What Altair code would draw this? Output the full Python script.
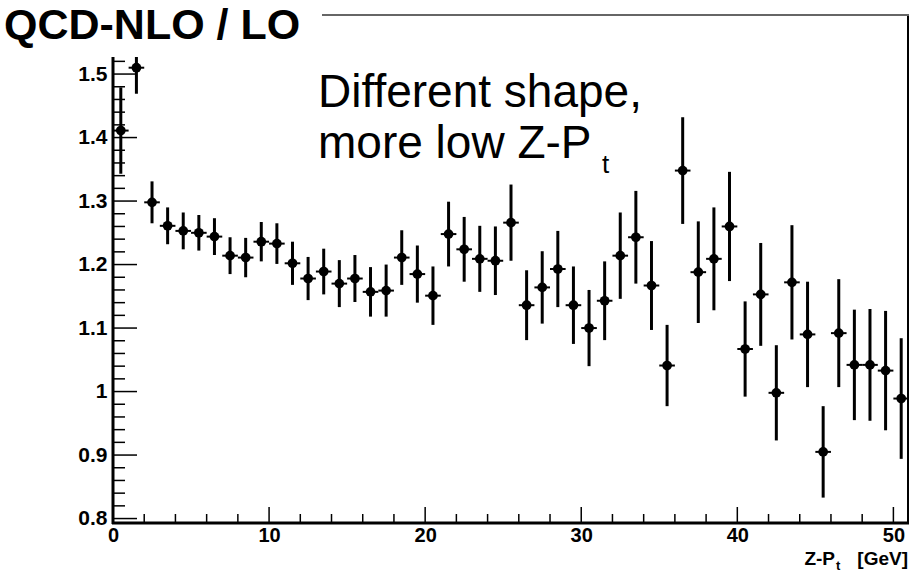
import altair as alt
import pandas as pd

# ---- data ----
bin_center = [0.5, 1.5, 2.5, 3.5, 4.5, 5.5, 6.5, 7.5, 8.5, 9.5,
              10.5, 11.5, 12.5, 13.5, 14.5, 15.5, 16.5, 17.5, 18.5, 19.5,
              20.5, 21.5, 22.5, 23.5, 24.5, 25.5, 26.5, 27.5, 28.5, 29.5,
              30.5, 31.5, 32.5, 33.5, 34.5, 35.5, 36.5, 37.5, 38.5, 39.5,
              40.5, 41.5, 42.5, 43.5, 44.5, 45.5, 46.5, 47.5, 48.5, 49.5, 50.5]
ratio = [1.411, 1.510, 1.298, 1.261, 1.253, 1.250, 1.244, 1.214, 1.211, 1.236,
         1.233, 1.202, 1.178, 1.189, 1.170, 1.178, 1.157, 1.159, 1.211, 1.185,
         1.151, 1.248, 1.224, 1.209, 1.206, 1.266, 1.136, 1.164, 1.193, 1.136,
         1.100, 1.143, 1.214, 1.243, 1.167, 1.041, 1.348, 1.188, 1.209, 1.260,
         1.067, 1.153, 0.998, 1.172, 1.090, 0.905, 1.092, 1.042, 1.042, 1.033, 0.989]
error = [0.068, 0.041, 0.033, 0.029, 0.029, 0.028, 0.029, 0.029, 0.031, 0.031,
         0.032, 0.034, 0.034, 0.036, 0.037, 0.037, 0.039, 0.041, 0.043, 0.045,
         0.046, 0.051, 0.051, 0.052, 0.054, 0.060, 0.055, 0.057, 0.060, 0.061,
         0.060, 0.062, 0.068, 0.073, 0.070, 0.064, 0.084, 0.080, 0.081, 0.086,
         0.075, 0.081, 0.075, 0.090, 0.083, 0.072, 0.085, 0.087, 0.088, 0.094, 0.095]
bin_half_width = 0.5

x_major = [0, 10, 20, 30, 40, 50]
x_minor = [2, 4, 6, 8, 12, 14, 16, 18, 22, 24, 26, 28, 32, 34, 36, 38, 42, 44, 46, 48]
y_major = [0.8, 0.9, 1.0, 1.1, 1.2, 1.3, 1.4, 1.5]
y_minor = [0.82, 0.84, 0.86, 0.88, 0.92, 0.94, 0.96, 0.98, 1.02, 1.04, 1.06, 1.08,
           1.12, 1.14, 1.16, 1.18, 1.22, 1.24, 1.26, 1.28, 1.32, 1.34, 1.36, 1.38,
           1.42, 1.44, 1.46, 1.48, 1.52, 1.54, 1.56, 1.58]

title_text = "QCD-NLO / LO"
note_line1 = "Different shape,"
note_line2 = "more low Z-P"
note_sub = "t"
xtitle_main = "Z-P"
xtitle_sub = "t"
xtitle_unit = "[GeV]"

FONT = "Liberation Sans"
W, H = 796, 508

df = pd.DataFrame({"x": bin_center, "y": ratio, "e": error})
df["hw"] = bin_half_width

xs = alt.Scale(domain=[0, 51], nice=False, zero=False)
ys = alt.Scale(domain=[0.793, 1.593], nice=False, zero=False)

xaxis = alt.Axis(values=x_major, ticks=False, domain=False, grid=False,
                 labelFont=FONT, labelFontWeight="bold", labelFontSize=20,
                 labelColor="black", labelPadding=2, labelFlush=False,
                 labelOverlap=False, labelBound=False, title=None, format="d")
yaxis = alt.Axis(values=y_major, ticks=False, domain=False, grid=False,
                 labelFont=FONT, labelFontWeight="bold", labelFontSize=21,
                 labelColor="black", labelPadding=6, labelOverlap=False,
                 labelBound=False, title=None,
                 labelExpr="datum.value == 1 ? '1' : format(datum.value, '.1f')")

base = alt.Chart(df)

vbar = base.transform_calculate(
    lo="datum.y - datum.e", hi="datum.y + datum.e"
).mark_rule(color="black", strokeWidth=3).encode(
    x=alt.X("x:Q", scale=xs, axis=xaxis),
    y=alt.Y("lo:Q", scale=ys, axis=yaxis),
    y2="hi:Q",
)

hbar = base.transform_calculate(
    x0="datum.x - datum.hw", x1="datum.x + datum.hw"
).mark_rule(color="black", strokeWidth=2).encode(
    x=alt.X("x0:Q", scale=xs, axis=xaxis),
    x2="x1:Q",
    y=alt.Y("y:Q", scale=ys, axis=yaxis),
)

pts = base.mark_point(filled=True, shape="circle", size=95, color="black",
                      opacity=1).encode(
    x=alt.X("x:Q", scale=xs, axis=xaxis),
    y=alt.Y("y:Q", scale=ys, axis=yaxis),
)

ymaj = alt.Chart(pd.DataFrame({"v": y_major})).mark_rule(
    color="black", strokeWidth=1.5).encode(
    y=alt.Y("v:Q", scale=ys, axis=yaxis), x=alt.value(0), x2=alt.value(24))
ymin = alt.Chart(pd.DataFrame({"v": y_minor})).mark_rule(
    color="black", strokeWidth=1.5).encode(
    y=alt.Y("v:Q", scale=ys, axis=yaxis), x=alt.value(0), x2=alt.value(12))
xmaj = alt.Chart(pd.DataFrame({"v": x_major})).mark_rule(
    color="black", strokeWidth=1.5).encode(
    x=alt.X("v:Q", scale=xs, axis=xaxis), y=alt.value(H), y2=alt.value(H - 16))
xmin = alt.Chart(pd.DataFrame({"v": x_minor})).mark_rule(
    color="black", strokeWidth=1.5).encode(
    x=alt.X("v:Q", scale=xs, axis=xaxis), y=alt.value(H), y2=alt.value(H - 9))

one = pd.DataFrame({"a": [0]})
left_line = alt.Chart(one).mark_rule(color="black", strokeWidth=3).encode(
    x=alt.value(0), y=alt.value(0), y2=alt.value(H + 1))
bottom_line = alt.Chart(one).mark_rule(color="black", strokeWidth=3).encode(
    y=alt.value(H), x=alt.value(-1), x2=alt.value(W))
right_line = alt.Chart(one).mark_rule(color="black", strokeWidth=2).encode(
    x=alt.value(W - 1), y=alt.value(0), y2=alt.value(H))
top_line = alt.Chart(one).mark_rule(color="#666666", strokeWidth=2).encode(
    y=alt.value(0), x=alt.value(0), x2=alt.value(W))

box = alt.Chart(one).mark_rect(color="white", opacity=1).encode(
    x=alt.value(-113), x2=alt.value(209), y=alt.value(-15), y2=alt.value(42))


def txt(s, x, y, size, weight="normal", align="left"):
    return alt.Chart(one).mark_text(
        text=s, font=FONT, fontSize=size, fontWeight=weight, align=align,
        baseline="alphabetic", color="black").encode(
        x=alt.value(x), y=alt.value(y))


title = txt(title_text, -109, 24, 43, "bold")
n1 = txt(note_line1, 205, 92, 46)
n2 = txt(note_line2, 205, 143, 46)
n3 = txt(note_sub, 489, 158, 26)
xt1 = txt(xtitle_main, 722, 550, 19, "bold", "right")
xt2 = txt(xtitle_sub, 723, 555, 13, "bold")
xt3 = txt(xtitle_unit, 795, 550, 19, "bold", "right")

chart = alt.layer(
    vbar, hbar, pts, ymaj, ymin, xmaj, xmin,
    left_line, bottom_line, right_line, top_line, box,
    title, n1, n2, n3, xt1, xt2, xt3,
).properties(
    width=W, height=H,
    padding={"left": 113, "top": 15, "right": 1, "bottom": 49},
    autosize=alt.AutoSizeParams(type="none"),
    background="white",
).configure_view(stroke=None)

chart.save("out.html", embed_options={"renderer": "svg", "actions": False})
